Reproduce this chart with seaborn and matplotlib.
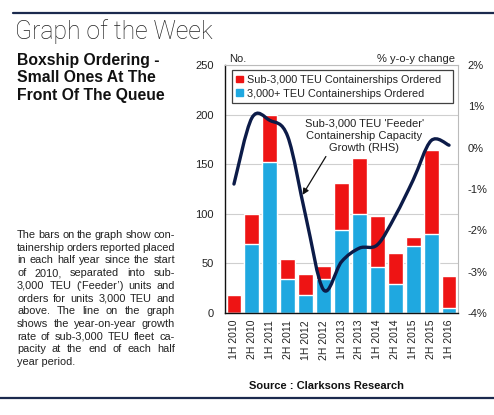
import numpy as np
import pandas as pd
import matplotlib
matplotlib.use("Agg")
import matplotlib.pyplot as plt
from matplotlib.path import Path
from matplotlib.patches import PathPatch
from matplotlib.lines import Line2D
from matplotlib.patches import Patch
import seaborn as sns

periods = ["1H 2010", "2H 2010", "1H 2011", "2H 2011", "1H 2012", "2H 2012", "1H 2013",
           "2H 2013", "1H 2014", "2H 2014", "1H 2015", "2H 2015", "1H 2016"]
total_orders = [18, 100, 200, 54, 39, 47, 131, 156, 98, 60, 77, 164, 37]
large_orders = [0, 70, 152, 34, 18, 34, 84, 100, 46, 29, 68, 80, 5]
feeder_growth = [-0.88, 0.72, 0.66, 0.27, -1.65, -3.44, -2.76, -2.43, -2.35, -1.65, -0.78, 0.17, 0.06]
left_ticks = [0, 50, 100, 150, 200, 250]
right_ticks = [-4, -3, -2, -1, 0, 1, 2]
right_labels = ["-4%", "-3%", "-2%", "-1%", "0%", "1%", "2%"]

RED = "#EE1414"
BLUE = "#1FA8E0"
NAVY = "#0C1B48"
TXT = "#222222"

sns.set_theme(style="white")
plt.rcParams["font.family"] = ["Liberation Sans", "DejaVu Sans"]

W, H = 494, 415
fig = plt.figure(figsize=(W / 100, H / 100), dpi=100)
fig.patch.set_facecolor("white")

def fx(px):
    return px / W

def fy(py):
    return 1 - py / H

ax = fig.add_axes([fx(225), fy(313), fx(458) - fx(225), fy(65) - fy(313)])
df = pd.DataFrame({"period": periods, "total": total_orders, "large": large_orders})

sns.barplot(data=df, x="period", y="total", color=RED, saturation=1, width=0.83, ax=ax)
sns.barplot(data=df, x="period", y="large", color=BLUE, saturation=1, width=0.83, ax=ax)
ax.set_xlim(-0.5, len(periods) - 0.5)
ax.set_ylim(0, 250)
ax.set_yticks(left_ticks)
ax.set_xlabel("")
ax.set_ylabel("")
ax.yaxis.grid(True, color="#cfcfcf", lw=0.8)
ax.set_axisbelow(True)
ax.tick_params(axis="y", length=0, pad=8, labelsize=8, labelcolor=TXT)
ax.tick_params(axis="x", length=0, pad=5, labelsize=7.5, labelcolor=TXT, rotation=90)
for s in ["top", "right"]:
    ax.spines[s].set_color("#bbbbbb")
    ax.spines[s].set_linewidth(0.8)
for s in ["left", "bottom"]:
    ax.spines[s].set_color("#111111")
    ax.spines[s].set_linewidth(1.0)

ax2 = ax.twinx()
ax2.set_ylim(-4, 2)
ax2.set_yticks(right_ticks)
ax2.set_yticklabels(right_labels)
ax2.tick_params(axis="y", length=0, pad=7, labelsize=8, labelcolor=TXT)
for s in ax2.spines.values():
    s.set_visible(False)
ax2.grid(False)

# smoothed line (Excel-style smoothing of the data points)
pts = np.column_stack([np.arange(len(feeder_growth)), feeder_growth]).astype(float)
n = len(pts)
verts = [pts[0]]
codes = [Path.MOVETO]
for i in range(n - 1):
    p0 = pts[i - 1] if i > 0 else pts[i]
    p1 = pts[i]
    p2 = pts[i + 1]
    p3 = pts[i + 2] if i + 2 < n else pts[i + 1]
    verts += [p1 + (p2 - p0) / 6, p2 - (p3 - p1) / 6, p2]
    codes += [Path.CURVE4] * 3
ax2.add_patch(PathPatch(Path(verts, codes), facecolor="none", edgecolor=NAVY, lw=2.4,
                        transform=ax2.transData, capstyle="round", joinstyle="round"))

handles = [Patch(color=RED, label="Sub-3,000 TEU Containerships Ordered"),
           Patch(color=BLUE, label="3,000+ TEU Containerships Ordered")]
leg = ax2.legend(handles=handles, loc="upper left", bbox_to_anchor=(0.03, 0.978, 0.948, 0),
                 mode="expand", fontsize=7.8, frameon=True, fancybox=False, handlelength=0.6,
                 handleheight=0.6, handletextpad=0.4, borderpad=0.4, labelspacing=0.35,
                 borderaxespad=0)
leg.get_frame().set_edgecolor("#111111")
leg.get_frame().set_linewidth(0.9)
for t in leg.get_texts():
    t.set_color(TXT)

ax2.text(0.597, 0.714, "Sub-3,000 TEU 'Feeder'\nContainership Capacity\nGrowth (RHS)",
         transform=ax2.transAxes, ha="center", va="center", fontsize=8, color=TXT,
         linespacing=1.25)
ax2.annotate("", xy=(3.83, -1.14), xytext=(0.433, 0.631), xycoords="data",
             textcoords="axes fraction",
             arrowprops=dict(arrowstyle="-|>", color="#111111", lw=0.9,
                             mutation_scale=9, shrinkA=0, shrinkB=0))

fig.text(fx(229), fy(59), "No.", ha="left", va="center", fontsize=8, color=TXT)
fig.text(fx(455), fy(59), "% y-o-y change", ha="right", va="center", fontsize=8, color=TXT)

# header
fig.add_artist(Line2D([fx(13), 1], [fy(13), fy(13)], color="#1B2A4E", lw=1.6))
fig.add_artist(Line2D([0, 1], [fy(398), fy(398)], color="#1B2A4E", lw=1.6))
fig.text(fx(15), fy(32), "Graph of the Week", ha="left", va="center", fontsize=17.8,
         family=["Roboto", "DejaVu Sans"], fontweight="light", color="#222222")
fig.text(fx(17), fy(53), "Boxship Ordering -\nSmall Ones At The\nFront Of The Queue",
         ha="left", va="top", fontsize=11.3, fontweight="bold", color="#111111",
         linespacing=1.2)

fig.text(fx(326), fy(386), "Source : Clarksons Research", ha="center", va="center",
         fontsize=8, fontweight="bold", color="#111111")

# justified body text
body_lines = ["The bars on the graph show con-",
              "tainership orders reported placed",
              "in each half year since the start",
              "of 2010, separated into sub-",
              "3,000 TEU (\u2018Feeder\u2019) units and",
              "orders for units 3,000 TEU and",
              "above. The line on the graph",
              "shows the year-on-year growth",
              "rate of sub-3,000 TEU fleet ca-",
              "pacity at the end of each half",
              "year period."]
renderer = fig.canvas.get_renderer()
x_left, x_right = 17, 175
y0, pitch = 235, 12.7
BODY_FS = 7.9
for li, line in enumerate(body_lines):
    y = fy(y0 + li * pitch)
    words = line.split(" ")
    if li == len(body_lines) - 1:
        fig.text(fx(x_left), y, line, ha="left", va="center", fontsize=BODY_FS, color=TXT)
        continue
    texts = [fig.text(0, y, w, ha="left", va="center", fontsize=BODY_FS, color=TXT) for w in words]
    widths = [t.get_window_extent(renderer=renderer).width for t in texts]
    gap = (x_right - x_left - sum(widths)) / max(len(words) - 1, 1)
    x = x_left
    for t, w in zip(texts, widths):
        t.set_x(fx(x))
        x += w + gap

fig.savefig("out.png", dpi=100, facecolor="white")
